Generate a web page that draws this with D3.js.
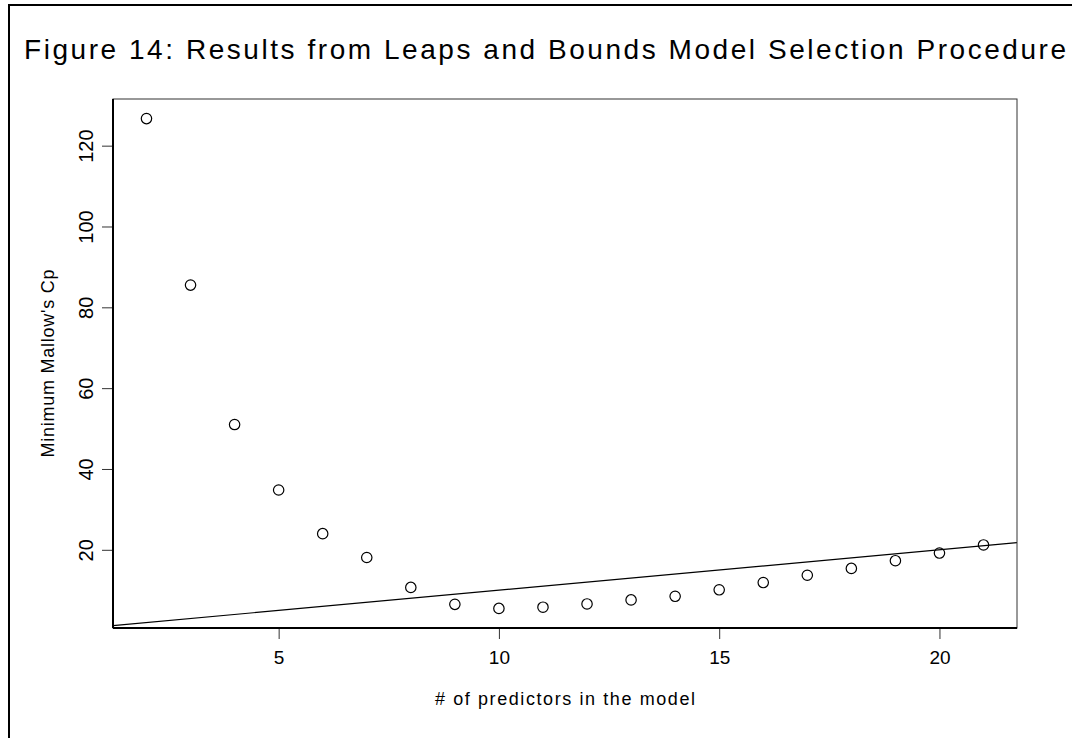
<!DOCTYPE html>
<html>
<head>
<meta charset="utf-8">
<script src="https://cdn.jsdelivr.net/npm/d3@7"></script>
<style>
  html, body { margin: 0; padding: 0; background: #fff; }
  svg { display: block; font-family: "Liberation Sans", Arial, sans-serif; }
</style>
</head>
<body>
<svg id="chart" width="1072" height="738"></svg>
<script>
// Number of predictors in each best subset
const predictors = [2, 3, 4, 5, 6, 7, 8, 9, 10, 11, 12, 13, 14, 15, 16, 17, 18, 19, 20, 21];
// Minimum Mallow's Cp for each subset size
const minCp = [126.7, 85.5, 51.0, 34.8, 24.0, 18.1, 10.7, 6.5, 5.5, 5.8, 6.6, 7.6, 8.5, 10.1, 11.9, 13.7, 15.4, 17.3, 19.2, 21.2];
const xTicks = [5, 10, 15, 20];
const yTicks = [20, 40, 60, 80, 100, 120];

const titleText = "Figure 14: Results from Leaps and Bounds Model Selection Procedure";
const xLabel = "# of predictors in the model";
const yLabel = "Minimum Mallow's Cp";

const svg = d3.select("#chart");
const plot = { left: 113, right: 1017, top: 99, bottom: 628 };

// pad the data range by 4% on each side
function padded(values) {
  const [lo, hi] = d3.extent(values);
  const d = (hi - lo) * 0.04;
  return [lo - d, hi + d];
}

const x = d3.scaleLinear().domain(padded(predictors)).range([plot.left, plot.right]);
const y = d3.scaleLinear().domain(padded(minCp)).range([plot.bottom, plot.top]);

// outer figure frame
svg.append("rect")
  .attr("x", 9).attr("y", 5).attr("width", 2000).attr("height", 2000)
  .attr("fill", "none").attr("stroke", "#000").attr("stroke-width", 2);

// title
svg.append("text")
  .attr("x", 24).attr("y", 59)
  .attr("font-size", 28)
  .attr("textLength", 1042).attr("lengthAdjust", "spacing")
  .attr("fill", "#000")
  .text(titleText);

// clip region for the reference line
svg.append("clipPath").attr("id", "plotClip")
  .append("rect")
  .attr("x", plot.left).attr("y", plot.top)
  .attr("width", plot.right - plot.left).attr("height", plot.bottom - plot.top);

// Cp = p reference line
const [x0, x1] = x.domain();
svg.append("line")
  .attr("clip-path", "url(#plotClip)")
  .attr("x1", x(x0)).attr("y1", y(x0))
  .attr("x2", x(x1)).attr("y2", y(x1))
  .attr("stroke", "#000").attr("stroke-width", 1.2);

// points
svg.append("g").selectAll("circle")
  .data(predictors.map((p, i) => ({ p, cp: minCp[i] })))
  .join("circle")
  .attr("cx", d => x(d.p))
  .attr("cy", d => y(d.cp))
  .attr("r", 5.2)
  .attr("fill", "none")
  .attr("stroke", "#000")
  .attr("stroke-width", 1.2);

// plot box
svg.append("rect")
  .attr("x", plot.left).attr("y", plot.top)
  .attr("width", plot.right - plot.left).attr("height", plot.bottom - plot.top)
  .attr("fill", "none").attr("stroke", "#333").attr("stroke-width", 1);

// x axis
const xAxis = svg.append("g")
  .attr("transform", `translate(0,${plot.bottom})`)
  .call(d3.axisBottom(x).tickValues(xTicks).tickSize(11).tickPadding(12).tickFormat(d3.format("d")));
xAxis.select(".domain").remove();
xAxis.selectAll(".tick line").attr("stroke", "#333");
xAxis.selectAll(".tick text").attr("font-size", 19).attr("font-family", "Liberation Sans, Arial, sans-serif").attr("fill", "#000");
svg.append("line")
  .attr("x1", plot.left).attr("x2", plot.right)
  .attr("y1", plot.bottom).attr("y2", plot.bottom)
  .attr("stroke", "#000").attr("stroke-width", 2);

// y axis
const yAxis = svg.append("g")
  .attr("transform", `translate(${plot.left},0)`)
  .call(d3.axisLeft(y).tickValues(yTicks).tickSize(11).tickFormat(d3.format("d")));
yAxis.select(".domain").remove();
yAxis.selectAll(".tick line").attr("stroke", "#333");
yAxis.selectAll(".tick text")
  .attr("font-size", 20)
  .attr("font-family", "Liberation Sans, Arial, sans-serif")
  .attr("fill", "#000")
  .attr("x", null).attr("dy", null)
  .attr("text-anchor", "middle")
  .attr("transform", "translate(-20,0) rotate(-90)");
svg.append("line")
  .attr("x1", plot.left).attr("x2", plot.left)
  .attr("y1", plot.top).attr("y2", plot.bottom)
  .attr("stroke", "#000").attr("stroke-width", 2);

// axis titles
svg.append("text")
  .attr("x", (plot.left + plot.right) / 2).attr("y", 705)
  .attr("text-anchor", "middle")
  .attr("font-size", 18)
  .attr("textLength", 260).attr("lengthAdjust", "spacing")
  .text(xLabel);

svg.append("text")
  .attr("transform", `translate(54,${(plot.top + plot.bottom) / 2}) rotate(-90)`)
  .attr("text-anchor", "middle")
  .attr("font-size", 18)
  .attr("textLength", 188).attr("lengthAdjust", "spacing")
  .text(yLabel);
</script>
</body>
</html>
